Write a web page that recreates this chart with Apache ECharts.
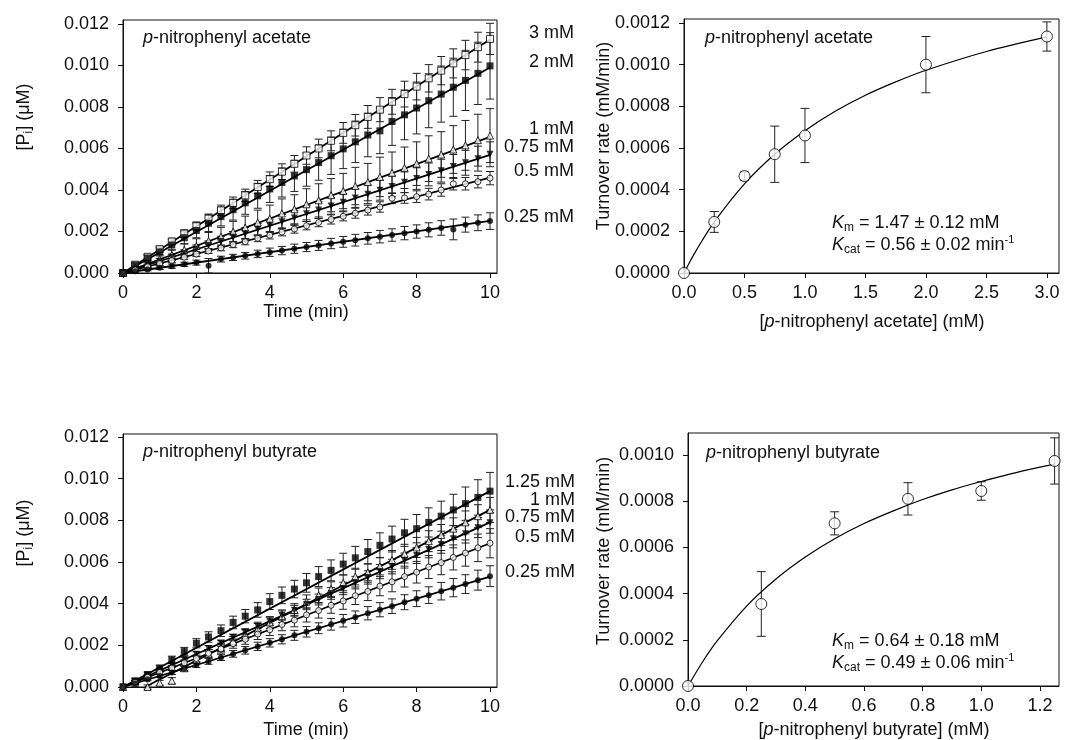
<!DOCTYPE html>
<html>
<head>
<meta charset="utf-8">
<script src="https://cdn.jsdelivr.net/npm/echarts@6/dist/echarts.min.js"></script>
<style>
  html, body { margin: 0; padding: 0; background: #fff; }
  #main { width: 1065px; height: 740px; }
</style>
</head>
<body>
<div id="main"></div>
<script>
// sampling times (min), shared by both time-course panels
var times = [0, 0.33, 0.67, 1, 1.33, 1.67, 2, 2.33, 2.67, 3, 3.33, 3.67, 4, 4.33, 4.67, 5,
  5.33, 5.67, 6, 6.33, 6.67, 7, 7.33, 7.67, 8, 8.33, 8.67, 9, 9.33, 9.67, 10];

// p-nitrophenyl acetate, [Pi] (uM) vs time
var ac300 = [0, 0.0004, 0.00078, 0.00115, 0.00152, 0.0019, 0.00226, 0.00262, 0.00302, 0.00338, 0.00374, 0.00414, 0.00452, 0.00488, 0.00526, 0.00566,
  0.006, 0.00637, 0.00675, 0.00712, 0.00752, 0.00787, 0.00825, 0.00862, 0.00898, 0.00938, 0.00975, 0.0101, 0.0105, 0.01088, 0.01128];
var ac300Err = [0, 0.00008, 0.0001, 0.00012, 0.00015, 0.00018, 0.0002, 0.00022, 0.00025, 0.00028, 0.0003, 0.00032, 0.00035, 0.00038, 0.0004, 0.00042,
  0.00045, 0.00048, 0.0005, 0.00052, 0.00055, 0.00058, 0.0006, 0.00062, 0.00064, 0.00066, 0.00068, 0.0007, 0.00071, 0.00072, 0.00075];
var ac200 = [0, 0.00038, 0.00072, 0.00102, 0.00135, 0.0017, 0.00205, 0.0024, 0.00272, 0.00305, 0.00338, 0.00372, 0.00405, 0.00436, 0.00468, 0.00498,
  0.00532, 0.00565, 0.00598, 0.00632, 0.00665, 0.00685, 0.0073, 0.00762, 0.00795, 0.0083, 0.00862, 0.00895, 0.00928, 0.00962, 0.00998];
var ac200Err = [0, 0.0001, 0.00015, 0.0002, 0.00025, 0.0003, 0.00035, 0.0004, 0.00045, 0.0005, 0.00055, 0.0006, 0.00065, 0.0007, 0.00075, 0.0008,
  0.00085, 0.0009, 0.00095, 0.001, 0.00105, 0.0011, 0.00115, 0.0012, 0.00125, 0.0013, 0.00135, 0.0014, 0.00145, 0.0015, 0.0016];
var ac100 = [0, 0.00023, 0.00043, 0.00067, 0.00087, 0.00111, 0.0013, 0.00155, 0.00175, 0.00199, 0.00219, 0.00243, 0.00262, 0.00287, 0.00307, 0.00331,
  0.0035, 0.00375, 0.00395, 0.00419, 0.00438, 0.00463, 0.00483, 0.00507, 0.00527, 0.00551, 0.00571, 0.00595, 0.00615, 0.0064, 0.00662];
var ac100Err = [0, 0.0001, 0.00015, 0.0002, 0.00025, 0.0003, 0.00035, 0.0004, 0.00045, 0.0005, 0.00055, 0.0006, 0.00065, 0.0007, 0.0007, 0.00075,
  0.0008, 0.0008, 0.00085, 0.0009, 0.0009, 0.00095, 0.001, 0.001, 0.00105, 0.0011, 0.0011, 0.00115, 0.0012, 0.00125, 0.0013];
var ac075 = [0, 0.00018, 0.00038, 0.00057, 0.00076, 0.00094, 0.00115, 0.00133, 0.00152, 0.00172, 0.00189, 0.00209, 0.00228, 0.00247, 0.00265, 0.00286,
  0.00303, 0.00323, 0.00341, 0.00361, 0.00379, 0.00399, 0.00417, 0.00437, 0.00455, 0.00475, 0.00493, 0.00513, 0.00531, 0.00551, 0.00572];
var ac075Err = [0, 0.00005, 0.0001, 0.00012, 0.00015, 0.00018, 0.0002, 0.00022, 0.00025, 0.00028, 0.0003, 0.0003, 0.00032, 0.00035, 0.00035, 0.00038,
  0.0004, 0.0004, 0.00042, 0.00045, 0.00045, 0.00048, 0.0005, 0.0005, 0.00052, 0.00055, 0.00055, 0.00058, 0.0006, 0.0006, 0.0006];
var ac050 = [0, 0.00015, 0.0003, 0.00045, 0.0006, 0.00076, 0.00091, 0.00106, 0.00121, 0.00137, 0.00151, 0.00167, 0.00182, 0.00197, 0.00212, 0.00228,
  0.00243, 0.00258, 0.00273, 0.00288, 0.00303, 0.00318, 0.0036, 0.00362, 0.00368, 0.0038, 0.004, 0.0043, 0.0043, 0.0044, 0.00457];
var ac050Err = [0, 0.00005, 0.00006, 0.00008, 0.0001, 0.0001, 0.00012, 0.00012, 0.00014, 0.00015, 0.00015, 0.00016, 0.00018, 0.00018, 0.0002, 0.0002,
  0.0002, 0.00022, 0.00022, 0.00024, 0.00024, 0.00025, 0.00026, 0.00026, 0.00028, 0.00028, 0.0003, 0.0003, 0.0003, 0.0003, 0.00032];
var ac025 = [0, 0.00008, 0.00017, 0.00025, 0.00033, 0.00042, 0.0005, 0.00035, 0.00067, 0.00075, 0.00083, 0.00092, 0.001, 0.00108, 0.00117, 0.00125,
  0.00133, 0.00142, 0.0015, 0.00158, 0.00167, 0.00175, 0.00183, 0.00192, 0.002, 0.00208, 0.00217, 0.0021, 0.00233, 0.00242, 0.0025];
var ac025Err = [0, 0.00005, 0.00006, 0.00008, 0.0001, 0.0001, 0.00012, 0.00035, 0.00014, 0.00015, 0.00016, 0.00018, 0.0002, 0.0002, 0.00022, 0.00022,
  0.00024, 0.00025, 0.00026, 0.00028, 0.00028, 0.0003, 0.0003, 0.00032, 0.00032, 0.00034, 0.00035, 0.0005, 0.00036, 0.00038, 0.0004];
// linear fits [t, Pi] start and end
var ac300Fit = [[0, 0], [10, 0.01125]];
var ac200Fit = [[0, 0], [10, 0.0099]];
var ac100Fit = [[0, 0], [10, 0.00656]];
var ac075Fit = [[0, 0], [10, 0.00569]];
var ac050Fit = [[0, 0], [10, 0.0046]];
var ac025Fit = [[0, 0], [10, 0.00251]];
var acLabels = ['3 mM', '2 mM', '1 mM', '0.75 mM', '0.5 mM', '0.25 mM'];

// p-nitrophenyl butyrate, [Pi] (uM) vs time
var bu125 = [0, 0.0003, 0.0006, 0.0009, 0.0013, 0.0017, 0.0021, 0.0024, 0.0027, 0.0031, 0.0034, 0.0037, 0.0041, 0.0044, 0.0047, 0.005,
  0.0053, 0.0056, 0.0059, 0.0062, 0.0065, 0.0068, 0.0071, 0.0074, 0.0076, 0.0079, 0.0082, 0.0085, 0.0088, 0.0091, 0.0094];
var bu125Err = [0, 0.0001, 0.00012, 0.00015, 0.00018, 0.0002, 0.00022, 0.00025, 0.00028, 0.0003, 0.00032, 0.00035, 0.00038, 0.0004, 0.00042, 0.00045,
  0.00048, 0.0005, 0.00052, 0.00055, 0.00058, 0.0006, 0.00062, 0.00065, 0.00068, 0.0007, 0.00072, 0.00075, 0.0008, 0.00085, 0.0009];
var bu100 = [0, 0.0002, 0.0000, 0.0002, 0.0003, 0.0009, 0.0013, 0.0016, 0.0019, 0.0022, 0.0025, 0.0028, 0.0031, 0.0034, 0.0037, 0.0041,
  0.0044, 0.0047, 0.005, 0.0053, 0.0055, 0.0058, 0.0061, 0.0064, 0.0067, 0.007, 0.0073, 0.0076, 0.0079, 0.0082, 0.0085];
var bu100Err = [0, 0.0001, 0.0001, 0.00012, 0.00015, 0.00015, 0.00018, 0.0002, 0.0002, 0.00022, 0.00025, 0.00025, 0.00028, 0.0003, 0.0003, 0.00032,
  0.00035, 0.00035, 0.00038, 0.0004, 0.0004, 0.00042, 0.00045, 0.00045, 0.00048, 0.0005, 0.0005, 0.00052, 0.00055, 0.00055, 0.0006];
var bu075 = [0, 0.00025, 0.00054, 0.0008, 0.00104, 0.00133, 0.00157, 0.00185, 0.0021, 0.00238, 0.00262, 0.00291, 0.00315, 0.00343, 0.00368, 0.00396,
  0.0042, 0.00449, 0.00473, 0.00501, 0.00526, 0.00554, 0.00578, 0.00607, 0.00631, 0.0066, 0.00684, 0.00712, 0.00736, 0.00765, 0.00788];
var bu075Err = [0, 0.00005, 0.00006, 0.00008, 0.0001, 0.0001, 0.00012, 0.00014, 0.00015, 0.00016, 0.00018, 0.0002, 0.0002, 0.00022, 0.00024, 0.00025,
  0.00026, 0.00028, 0.0003, 0.0003, 0.00032, 0.00034, 0.00035, 0.00036, 0.00038, 0.0004, 0.00042, 0.00044, 0.00045, 0.00048, 0.0005];
var bu050 = [0, 0.00022, 0.00047, 0.0007, 0.00091, 0.00116, 0.00137, 0.00162, 0.00183, 0.00208, 0.00229, 0.00254, 0.00275, 0.003, 0.00321, 0.00346,
  0.00367, 0.00392, 0.00413, 0.00438, 0.00459, 0.00484, 0.00505, 0.0053, 0.00551, 0.00576, 0.00597, 0.00622, 0.00643, 0.00668, 0.0069];
var bu050Err = [0, 0.00006, 0.00008, 0.0001, 0.00012, 0.00014, 0.00016, 0.00018, 0.0002, 0.00022, 0.00024, 0.00026, 0.00028, 0.0003, 0.00032, 0.00034,
  0.00036, 0.00038, 0.0004, 0.00042, 0.00044, 0.00046, 0.00048, 0.0005, 0.00052, 0.00055, 0.00058, 0.0006, 0.00063, 0.00066, 0.0007];
var bu025 = [0, 0.00017, 0.00036, 0.00053, 0.0007, 0.00089, 0.00106, 0.00123, 0.00142, 0.00159, 0.00176, 0.00195, 0.00212, 0.00229, 0.00248, 0.00265,
  0.00282, 0.00301, 0.00318, 0.00335, 0.00354, 0.00371, 0.00388, 0.00407, 0.00424, 0.00441, 0.0046, 0.00477, 0.00494, 0.00513, 0.00532];
var bu025Err = [0, 0.00005, 0.00006, 0.00008, 0.0001, 0.0001, 0.00012, 0.00014, 0.00015, 0.00016, 0.00018, 0.0002, 0.0002, 0.00022, 0.00024, 0.00025,
  0.00026, 0.00028, 0.0003, 0.0003, 0.00032, 0.00034, 0.00035, 0.00036, 0.00038, 0.0004, 0.00042, 0.00044, 0.00045, 0.00048, 0.0005];
var bu125Fit = [[0, 0], [10, 0.0094]];
var bu100Fit = [[0.6, 0], [10, 0.0085]];
var bu075Fit = [[0, 0], [10, 0.0079]];
var bu050Fit = [[0, 0], [10, 0.0069]];
var bu025Fit = [[0, 0], [10, 0.0053]];
var buLabels = ['1.25 mM', '1 mM', '0.75 mM', '0.5 mM', '0.25 mM'];

// Michaelis-Menten panels: substrate (mM), rate (mM/min), SD
var acConc = [0, 0.25, 0.5, 0.75, 1, 2, 3];
var acRate = [0, 0.000245, 0.000465, 0.00057, 0.00066, 0.001, 0.001135];
var acRateErr = [0, 0.00005, 0.00002, 0.000135, 0.00013, 0.000135, 0.00007];
var acCurveX = [0, 0.05, 0.1, 0.25, 0.5, 0.75, 1, 1.25, 1.5, 1.75, 2, 2.5, 3];
var acCurveY = [0, 0.0000555, 0.0001075, 0.000245, 0.000428, 0.00057, 0.000683, 0.000776, 0.000853, 0.000917, 0.000973, 0.001063, 0.001133];

var buConc = [0, 0.25, 0.5, 0.75, 1, 1.25];
var buRate = [0, 0.000355, 0.000704, 0.00081, 0.000844, 0.000974];
var buRateErr = [0, 0.00014, 0.00005, 0.00007, 0.00004, 0.0001];
var buCurveX = [0, 0.05, 0.1, 0.2, 0.3, 0.4, 0.5, 0.6, 0.7, 0.8, 0.9, 1, 1.1, 1.2, 1.25];
var buCurveY = [0, 0.000105, 0.000196, 0.000346, 0.000463, 0.000558, 0.000637, 0.000703, 0.000758, 0.000807, 0.000849, 0.000885, 0.000918, 0.000947, 0.00096];

// tick labels
var timeTicks = [0, 2, 4, 6, 8, 10];
var piTicks = [0, 0.002, 0.004, 0.006, 0.008, 0.01, 0.012];
var acConcTicks = [0, 0.5, 1, 1.5, 2, 2.5, 3];
var acRateTicks = [0, 0.0002, 0.0004, 0.0006, 0.0008, 0.001, 0.0012];
var buConcTicks = [0, 0.2, 0.4, 0.6, 0.8, 1, 1.2];
var buRateTicks = [0, 0.0002, 0.0004, 0.0006, 0.0008, 0.001];

var FONT = '"Liberation Sans", Arial, sans-serif';
var INK = '#111';

var chartDom = document.getElementById('main');
var myChart = echarts.init(chartDom, null, { renderer: 'canvas' });

function zip(xs, ys) {
  var out = [];
  for (var i = 0; i < xs.length; i++) out.push([xs[i], ys[i]]);
  return out;
}
function errData(xs, ys, es) {
  var out = [];
  for (var i = 0; i < xs.length; i++) out.push([xs[i], ys[i] - es[i], ys[i] + es[i]]);
  return out;
}
function errRenderer(cap) {
  return function (params, api) {
    var x = api.value(0);
    var hi = api.coord([x, api.value(2)]);
    var lo = api.coord([x, api.value(1)]);
    if (Math.abs(hi[1] - lo[1]) < 0.5) return null;
    var st = { stroke: '#222', lineWidth: 1 };
    return {
      type: 'group',
      children: [
        { type: 'line', shape: { x1: hi[0], y1: hi[1], x2: lo[0], y2: lo[1] }, style: st },
        { type: 'line', shape: { x1: hi[0] - cap, y1: hi[1], x2: hi[0] + cap, y2: hi[1] }, style: st },
        { type: 'line', shape: { x1: lo[0] - cap, y1: lo[1], x2: lo[0] + cap, y2: lo[1] }, style: st }
      ]
    };
  };
}

function xAxisCfg(gi, min, max, ticks, fmt) {
  return {
    gridIndex: gi, type: 'value', min: min, max: max,
    splitLine: { show: false },
    axisLine: { show: true, onZero: false, lineStyle: { color: INK, width: 1 } },
    axisTick: { show: true, inside: false, length: 5, customValues: ticks, lineStyle: { color: INK } },
    axisLabel: { customValues: ticks, margin: 11, color: INK, fontSize: 18, fontFamily: FONT, formatter: fmt }
  };
}
function yAxisCfg(gi, min, max, ticks, fmt) {
  return {
    gridIndex: gi, type: 'value', min: min, max: max,
    splitLine: { show: false },
    axisLine: { show: true, onZero: false, lineStyle: { color: INK, width: 1 } },
    axisTick: { show: true, inside: false, length: 5, customValues: ticks, lineStyle: { color: INK } },
    axisLabel: { customValues: ticks, margin: 14, color: INK, fontSize: 18, fontFamily: FONT, formatter: fmt }
  };
}

var series = [];
function addTimeCourse(gi, vals, errs, fit, symbol, rotate, open, size) {
  series.push({
    type: 'custom', xAxisIndex: gi, yAxisIndex: gi, z: 1, silent: true,
    renderItem: errRenderer(4), encode: { x: 0, y: [1, 2] },
    data: errData(times, vals, errs)
  });
  series.push({
    type: 'line', xAxisIndex: gi, yAxisIndex: gi, z: 2, silent: true,
    showSymbol: false, lineStyle: { color: '#000', width: 1.8 },
    data: fit
  });
  series.push({
    type: 'scatter', xAxisIndex: gi, yAxisIndex: gi, z: 3, silent: true,
    symbol: symbol, symbolRotate: rotate, symbolSize: size,
    itemStyle: open ? { color: '#fff', borderColor: '#000', borderWidth: 1 } : { color: '#000' },
    data: zip(times, vals)
  });
}

addTimeCourse(0, ac300, ac300Err, ac300Fit, 'rect', 0, true, 7);
addTimeCourse(0, ac200, ac200Err, ac200Fit, 'rect', 0, false, 7);
addTimeCourse(0, ac100, ac100Err, ac100Fit, 'triangle', 0, true, 7);
addTimeCourse(0, ac075, ac075Err, ac075Fit, 'triangle', 180, false, 7);
addTimeCourse(0, ac050, ac050Err, ac050Fit, 'circle', 0, true, 6);
addTimeCourse(0, ac025, ac025Err, ac025Fit, 'circle', 0, false, 6);

addTimeCourse(2, bu125, bu125Err, bu125Fit, 'rect', 0, false, 7);
addTimeCourse(2, bu100, bu100Err, bu100Fit, 'triangle', 0, true, 7);
addTimeCourse(2, bu075, bu075Err, bu075Fit, 'triangle', 180, false, 7);
addTimeCourse(2, bu050, bu050Err, bu050Fit, 'circle', 0, true, 6);
addTimeCourse(2, bu025, bu025Err, bu025Fit, 'circle', 0, false, 6);

function addKinetics(gi, conc, rate, errs, cx, cy) {
  series.push({
    type: 'custom', xAxisIndex: gi, yAxisIndex: gi, z: 1, silent: true,
    renderItem: errRenderer(4.5), encode: { x: 0, y: [1, 2] },
    data: errData(conc, rate, errs)
  });
  series.push({
    type: 'line', xAxisIndex: gi, yAxisIndex: gi, z: 2, silent: true, smooth: 0.3,
    showSymbol: false, lineStyle: { color: '#000', width: 1.2 },
    data: zip(cx, cy)
  });
  series.push({
    type: 'scatter', xAxisIndex: gi, yAxisIndex: gi, z: 3, silent: true,
    symbol: 'circle', symbolSize: 11,
    itemStyle: { color: '#fff', borderColor: '#000', borderWidth: 1 },
    data: zip(conc, rate)
  });
}
addKinetics(1, acConc, acRate, acRateErr, acCurveX, acCurveY);
addKinetics(3, buConc, buRate, buRateErr, buCurveX, buCurveY);

// taller line box so sub/superscripts can sit below/above the main glyphs
var txt = { fontSize: 18, fontFamily: FONT, fill: INK, lineHeight: 22 };
var rich = {
  n: { fontSize: 18, fontFamily: FONT, fill: INK, lineHeight: 22 },
  i: { fontStyle: 'italic', fontSize: 18, fontFamily: FONT, fill: INK, lineHeight: 22 },
  sub: { fontSize: 12, fontFamily: FONT, fill: INK, verticalAlign: 'bottom', lineHeight: 9 },
  sup: { fontSize: 11, fontFamily: FONT, fill: INK, verticalAlign: 'top', lineHeight: 10 }
};
function label(x, y, text, align, rot) {
  return {
    type: 'text', x: x, y: y, rotation: rot || 0, silent: true, z: 10,
    style: Object.assign({ text: text, align: align || 'left', verticalAlign: 'middle', rich: rich }, txt)
  };
}

var graphics = [
  label(143, 38, '{i|p}-nitrophenyl acetate'),
  label(705, 38, '{i|p}-nitrophenyl acetate'),
  label(143, 452, '{i|p}-nitrophenyl butyrate'),
  label(706, 453, '{i|p}-nitrophenyl butyrate'),
  label(24, 117, '{n|[P}{sub|i}{n|] (\u03bcM)}', 'center', Math.PI / 2),
  label(24, 533, '{n|[P}{sub|i}{n|] (\u03bcM)}', 'center', Math.PI / 2),
  label(604, 136, 'Turnover rate (mM/min)', 'center', Math.PI / 2),
  label(604, 551, 'Turnover rate (mM/min)', 'center', Math.PI / 2),
  label(306, 312, 'Time (min)', 'center'),
  label(306, 730, 'Time (min)', 'center'),
  label(872, 322, '[{i|p}-nitrophenyl acetate] (mM)', 'center'),
  label(874, 730, '[{i|p}-nitrophenyl butyrate] (mM)', 'center'),
  label(832, 223, '{i|K}{sub|m}{n| = 1.47 \u00b1 0.12 mM}'),
  label(832, 245, '{i|K}{sub|cat}{n| = 0.56 \u00b1 0.02 min}{sup|-1}'),
  label(832, 641, '{i|K}{sub|m}{n| = 0.64 \u00b1 0.18 mM}'),
  label(832, 663, '{i|K}{sub|cat}{n| = 0.49 \u00b1 0.06 min}{sup|-1}')
];
var acLabelY = [33, 62, 129, 147, 171, 217];
for (var i = 0; i < acLabels.length; i++) graphics.push(label(574, acLabelY[i], acLabels[i], 'right'));
var buLabelY = [482, 500, 517, 537, 572];
for (var j = 0; j < buLabels.length; j++) graphics.push(label(575, buLabelY[j], buLabels[j], 'right'));

var option = {
  backgroundColor: '#fff',
  animation: false,
  grid: [
    { left: 123, top: 20, width: 374, height: 253, show: true, borderColor: INK, borderWidth: 1 },
    { left: 684, top: 19, width: 375, height: 254, show: true, borderColor: INK, borderWidth: 1 },
    { left: 123, top: 434, width: 374, height: 253, show: true, borderColor: INK, borderWidth: 1 },
    { left: 688, top: 433, width: 371, height: 253, show: true, borderColor: INK, borderWidth: 1 }
  ],
  xAxis: [
    xAxisCfg(0, 0, 10.19, timeTicks, function (v) { return String(v); }),
    xAxisCfg(1, 0, 3.1, acConcTicks, function (v) { return v.toFixed(1); }),
    xAxisCfg(2, 0, 10.19, timeTicks, function (v) { return String(v); }),
    xAxisCfg(3, 0, 1.265, buConcTicks, function (v) { return v.toFixed(1); })
  ],
  yAxis: [
    yAxisCfg(0, 0, 0.01219, piTicks, function (v) { return v.toFixed(3); }),
    yAxisCfg(1, 0, 0.001219, acRateTicks, function (v) { return v.toFixed(4); }),
    yAxisCfg(2, 0, 0.012144, piTicks, function (v) { return v.toFixed(3); }),
    yAxisCfg(3, 0, 0.001095, buRateTicks, function (v) { return v.toFixed(4); })
  ],
  graphic: graphics,
  series: series
};

option && myChart.setOption(option);
window.addEventListener('resize', function () {
  myChart.resize();
});
</script>
</body>
</html>
